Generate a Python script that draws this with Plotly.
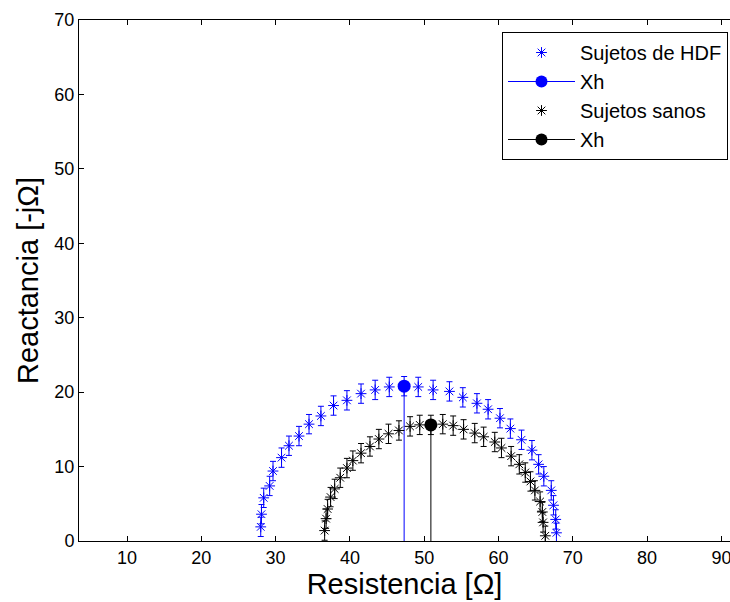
import plotly.graph_objects as go

# Impedance arcs (Cole plot): resistance vs. reactance per frequency
hdf_r = [28.0, 28.1, 28.4, 29.2, 29.65, 30.8, 31.8, 33.15, 34.5, 36.1, 37.8, 39.6,
         41.5, 43.4, 45.3, 47.3, 49.2, 51.2, 53.4, 55.2, 57.1, 58.6, 60.2, 61.6,
         63.1, 64.5, 65.4, 66.1, 67.1, 67.4, 67.7, 67.8]
hdf_x = [1.9, 3.6, 5.8, 7.4, 9.4, 11.2, 12.8, 14.1, 15.7, 16.8, 18.2, 18.9,
         19.8, 20.3, 20.7, 20.8, 20.7, 20.3, 20.1, 19.3, 18.5, 17.7, 16.5, 15.1,
         13.6, 12.2, 10.3, 8.7, 6.8, 4.8, 2.9, 1.1]
hdf_err = [1.3] * 32

sano_r = [36.6, 36.8, 37.0, 37.4, 37.95, 38.7, 39.6, 40.4, 41.5, 42.7, 43.9, 45.2,
          46.6, 48.1, 49.4, 50.9, 52.5, 53.9, 55.3, 56.8, 58.0, 59.5, 60.4, 61.7,
          62.8, 63.6, 64.3, 64.9, 65.6, 65.9, 66.0, 66.3]
sano_x = [1.4, 3.0, 4.3, 5.9, 7.0, 8.5, 9.8, 10.8, 11.8, 12.7, 13.7, 14.4,
          14.85, 15.4, 15.6, 15.6, 15.7, 15.5, 15.0, 14.5, 14.0, 13.3, 12.5, 11.4,
          10.3, 9.2, 8.0, 6.8, 5.3, 3.9, 2.5, 0.7]
sano_err = [1.3] * 32

# Characteristic reactance (peak) for each group
xh_hdf = (47.3, 20.8)
xh_sano = (50.9, 15.6)

x_ticks = [10, 20, 30, 40, 50, 60, 70, 80, 90]
y_ticks = [0, 10, 20, 30, 40, 50, 60, 70]

BLUE = "#0000ff"
BLACK = "#000000"
FONT = "Liberation Sans, Arial, sans-serif"

fig = go.Figure()


def add_group(r, x, err, xh, color, name):
    fig.add_trace(go.Scatter(
        x=r, y=x, mode="markers", name=name,
        marker=dict(symbol="asterisk-open", size=9, color=color,
                    line=dict(color=color, width=1)),
        error_y=dict(type="data", array=err, visible=True,
                     color=color, thickness=1, width=3),
    ))
    # legend entry for the Xh stem (line with a filled dot)
    fig.add_trace(go.Scatter(
        x=[None], y=[None], mode="lines+markers", name="Xh",
        legendgroup=name + "xh",
        line=dict(color=color, width=1),
        marker=dict(symbol="circle", size=12, color=color),
    ))
    # stem from the real axis up to Xh
    fig.add_trace(go.Scatter(
        x=[xh[0], xh[0]], y=[0, xh[1]], mode="lines", showlegend=False,
        legendgroup=name + "xh", line=dict(color=color, width=1),
    ))
    fig.add_trace(go.Scatter(
        x=[xh[0]], y=[xh[1]], mode="markers", showlegend=False,
        legendgroup=name + "xh",
        marker=dict(symbol="circle", size=13, color=color),
    ))


add_group(hdf_r, hdf_x, hdf_err, xh_hdf, BLUE, "Sujetos de HDF")
add_group(sano_r, sano_x, sano_err, xh_sano, BLACK, "Sujetos sanos")

L, T, B = 79, 20, 61
W, H = 730, 602
plot_w = W - L
plot_h = H - T - B

fig.update_layout(
    width=W, height=H,
    margin=dict(l=L, r=0, t=T, b=B, autoexpand=False),
    paper_bgcolor="white", plot_bgcolor="white",
    font=dict(family=FONT, color="black", size=18),
    showlegend=True,
    legend=dict(
        x=(502 - L) / plot_w, y=1 - (32 - T) / plot_h,
        xanchor="left", yanchor="top",
        bgcolor="white", bordercolor="black", borderwidth=1,
        font=dict(family=FONT, size=20, color="black"),
        itemwidth=67, traceorder="normal", tracegroupgap=0,
    ),
    xaxis=dict(
        range=[3.54, 3.54 + plot_w / 7.43],
        tickvals=x_ticks, ticks="inside", ticklen=5, tickcolor="black",
        showline=True, linecolor="black", linewidth=1, mirror="ticks",
        showgrid=False, zeroline=False, ticklabeloverflow="allow",
        tickfont=dict(family=FONT, size=18),
        title=dict(text="Resistencia [Ω]", font=dict(family=FONT, size=29), standoff=5),
    ),
    yaxis=dict(
        range=[0, 70],
        tickvals=y_ticks, ticks="inside", ticklen=5, tickcolor="black",
        showline=True, linecolor="black", linewidth=1, mirror=False,
        showgrid=False, zeroline=False,
        tickfont=dict(family=FONT, size=18),
        title=dict(text="Reactancia [-jΩ]", font=dict(family=FONT, size=29), standoff=7),
    ),
)

fig.write_html("out.html")
